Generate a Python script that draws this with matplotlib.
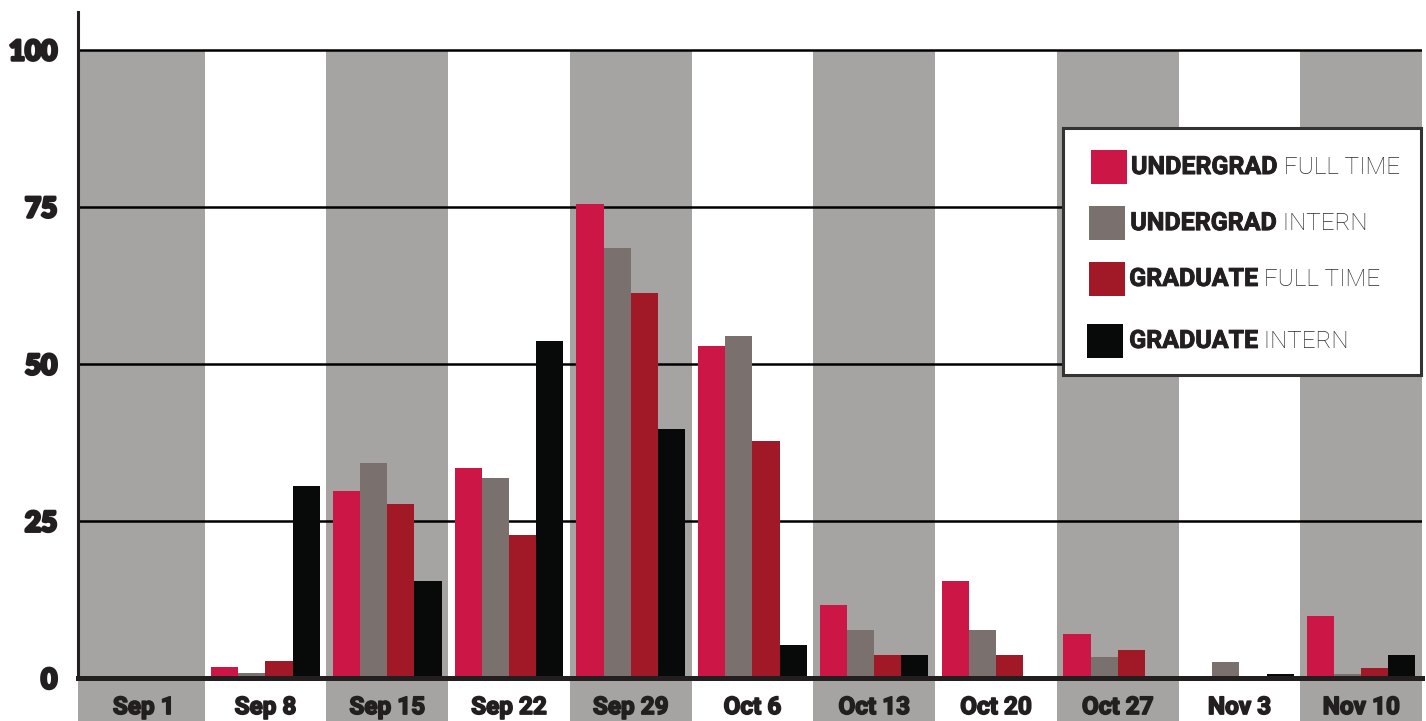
import numpy as np
import matplotlib
matplotlib.use("Agg")
import matplotlib.pyplot as plt
import matplotlib.patheffects as pe
from matplotlib.patches import Rectangle

# weekly hiring counts by category
weeks = ["Sep 1", "Sep 8", "Sep 15", "Sep 22", "Sep 29", "Oct 6",
         "Oct 13", "Oct 20", "Oct 27", "Nov 3", "Nov 10"]
undergrad_full_time = [0, 1.8, 29.7, 33.4, 75.4, 52.8, 11.6, 15.4, 7.0, 0, 9.8]
undergrad_intern = [0, 0.85, 34.2, 31.8, 68.5, 54.5, 7.6, 7.6, 3.4, 2.5, 0.7]
graduate_full_time = [0, 2.7, 27.7, 22.7, 61.3, 37.7, 3.7, 3.7, 4.5, 0, 1.6]
graduate_intern = [0, 30.5, 15.4, 53.6, 39.6, 5.3, 3.7, 0, 0, 0.6, 3.7]
y_ticks = [0, 25, 50, 75, 100]

series = [
    (undergrad_full_time, "#CC1646", "UNDERGRAD", " FULL TIME"),
    (undergrad_intern, "#7A706E", "UNDERGRAD", " INTERN"),
    (graduate_full_time, "#A11826", "GRADUATE", " FULL TIME"),
    (graduate_intern, "#080A09", "GRADUATE", " INTERN"),
]

band_gray = "#A5A4A2"
ink = "#231F20"
heavy = [pe.withStroke(linewidth=1.2, foreground=ink)]

W, H, dpi = 1426, 721, 100
fig = plt.figure(figsize=(W / dpi, H / dpi), dpi=dpi)
ax = fig.add_axes([78 / W, 43 / H, 1344 / W, 666 / H])

x = np.arange(len(weeks))
ymax = 106
x0 = -0.54
ax.set_xlim(x0, len(weeks) - 0.5)
ax.set_ylim(0, ymax)

# alternating column bands, continuing down behind the week labels;
# the first one runs all the way to the y axis
for i in x[::2]:
    left = x0 if i == 0 else i - 0.5
    ax.bar(left, 100 + 8, bottom=-8, width=i + 0.5 - left, align="edge",
           color=band_gray, zorder=0, clip_on=False, linewidth=0)

for t in y_ticks:
    ax.axhline(t, color="black", lw=1.8, zorder=1)

bw = 0.223
for k, (vals, color, _, _) in enumerate(series):
    ax.bar(x + (k - 1.5) * bw, vals, width=bw, color=color, zorder=2, linewidth=0)

for s in ["top", "right"]:
    ax.spines[s].set_visible(False)
ax.spines["left"].set_color(ink)
ax.spines["left"].set_linewidth(2.2)
ax.spines["bottom"].set_color(ink)
ax.spines["bottom"].set_linewidth(3.6)
ax.spines["bottom"].set_zorder(3)
ax.spines["left"].set_zorder(3)

ax.set_yticks(y_ticks)
ax.set_yticklabels([str(t) for t in y_ticks], family="Lato", weight="black",
                   fontsize=20, color=ink)
ax.tick_params(axis="y", length=0, pad=15)
for lab in ax.get_yticklabels():
    lab.set_path_effects([pe.withStroke(linewidth=2.2, foreground=ink)])

ax.set_xticks(x)
ax.set_xticklabels(weeks, family="Roboto", weight="bold", fontsize=17.5, color=ink)
ax.tick_params(axis="x", length=0, pad=13)
for lab in ax.get_xticklabels():
    lab.set_path_effects(heavy)

# legend box with bold + light labels
lg = fig.add_axes([1063 / W, (H - 375) / H, 358 / W, 247 / H])
lg.set_xlim(0, 1)
lg.set_ylim(0, 1)
lg.set_xticks([])
lg.set_yticks([])
lg.set_facecolor("white")
for s in lg.spines.values():
    s.set_color("#333333")
    s.set_linewidth(2.2)

rows = [(0.078, 0.842, 0.190), (0.073, 0.615, 0.188),
        (0.073, 0.389, 0.185), (0.067, 0.138, 0.185)]
for (vals, color, bold, light), (sx, sy, tx) in zip(series, rows):
    lg.add_patch(Rectangle((sx, sy - 0.069), 0.1, 0.138, color=color, lw=0))
    t1 = lg.text(tx, sy, bold, family="Roboto", weight="bold", fontsize=18,
                 color=ink, va="center", ha="left",
                 path_effects=[pe.withStroke(linewidth=0.7, foreground=ink)])
    lg.annotate(light, xy=(1, 0), xycoords=t1, va="bottom", ha="left",
                family="Roboto", weight="light", fontsize=17.5, color="#2a2a2a")

fig.savefig("out.png", dpi=dpi)
